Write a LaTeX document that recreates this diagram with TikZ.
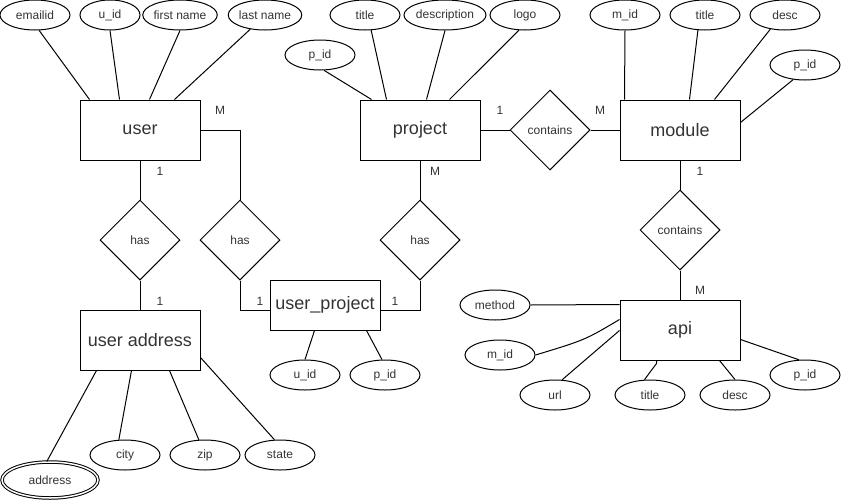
\documentclass[tikz,border=0pt]{standalone}
\usepackage{fontspec}
\setmainfont{Liberation Sans}
\usetikzlibrary{positioning}
\usetikzlibrary{calc}
\usetikzlibrary{shapes.geometric}
\tikzset{
    % Big boxes for the entities
    entity/.style={
        draw, rectangle, inner sep=0, text=black!80,
        minimum width=120pt, minimum height=60pt,
        font=\fontsize{18}{20}\selectfont},
%
    % Diamonds for the relations between entities
    relation/.style={
        draw, diamond, aspect=1, inner sep=0, text=black!80,
        minimum width=80pt, minimum height=80pt,
        font=\fontsize{12}{14}\selectfont},
%
    % Small ellipses for the attributes
    attribute/.style={
        draw, ellipse, inner sep=0, text=black!80,
        minimum width=70pt, minimum height=30pt,
        font=\fontsize{12}{14}\selectfont},
%
    % The 1 and M marks beside the links
    card/.style={inner sep=0, text=black!80,
        font=\fontsize{12}{14}\selectfont}}

\begin{document}
\begin{tikzpicture}[x=1pt, y=-1pt, line width=1pt]
\useasboundingbox (0,0) rectangle (841,501);

% The user and its attributes
\path
    node[entity] (user) at (140,130) {user}
    node[attribute] (user email) at (35,15) {emailid}
    node[attribute, minimum width=60pt] (user id) at (110,15) {u\_id}
    node[attribute] (user first) at (180,15) {first name}
    node[attribute] (user last) at (265,15) {last name};

\draw (user email.-75) -- ($(user.north west)+(10,0)$);
\draw (user id.south) -- ($(user.north west)+(40,0)$);
\draw (user first.south) -- ($(user.north west)+(70,0)$);
\draw (user last.-136) -- ($(user.north west)+(95,0)$);

% The project and its attributes
\path
    node[entity] (project) at (420,130) {project}
    node[attribute] (project id) at (320,55) {p\_id}
    node[attribute] (project title) at (365,15) {title}
    node[attribute] (project desc) at (445,15) {description}
    node[attribute] (project logo) at (525,15) {logo};

\draw (project id.-75) -- ($(project.north west)+(12,0)$);
\draw (project title.-68) -- ($(project.north west)+(27,0)$);
\draw (project desc.south) -- ($(project.north west)+(67,0)$);
\draw (project logo.-112) -- ($(project.north west)+(90,0)$);

% The module and its attributes
\path
    node[entity] (module) at (680,130) {module}
    node[attribute] (module id) at (625,15) {m\_id}
    node[attribute] (module title) at (705,15) {title}
    node[attribute] (module desc) at (785,15) {desc}
    node[attribute] (module pid) at (805,65) {p\_id};

\draw (module id.south) -- ($(module.north west)+(5,0)$);
\draw (module title.-115) -- ($(module.north west)+(70,0)$);
\draw (module desc.-136) -- ($(module.north west)+(95,0)$);
\draw (module pid.-129) -- ($(module.north east)+(0,23)$);

% Relations between the entities
\path
    node[relation] (user has) at (140,240) {has}
    node[relation] (user project has) at (240,240) {has}
    node[relation] (project has) at (420,240) {has}
    node[relation] (project contains) at (550,130) {contains}
    node[relation] (module contains) at (680,230) {contains};

% The user address, with its attributes
\path
    node[entity] (user address) at (140,340) {user address}
    node[attribute, double, double distance=1.5pt,
        minimum width=96pt, minimum height=36pt] (address) at (50,480) {address}
    node[attribute] (city) at (125,455) {city}
    node[attribute] (zip) at (205,455) {zip}
    node[attribute] (state) at (280,455) {state};

\draw (address.100) -- ($(user address.south west)+(17,0)$);
\draw (city.112) -- ($(user address.south west)+(52,0)$);
\draw (zip.112) -- ($(user address.south west)+(90,0)$);
\draw (state.110) -- ($(user address.south east)+(0,-13)$);

% The link table between users and projects
\path
    node[entity, minimum width=110pt, minimum height=50pt]
        (user_project) at (325,305) {user\_project}
    node[attribute] (link uid) at (305,375) {u\_id}
    node[attribute] (link pid) at (385,375) {p\_id};

\draw (link uid.north) -- ($(user_project.south west)+(45,0)$);
\draw (link pid.101) -- ($(user_project.south west)+(97,0)$);

% The api and its attributes
\path
    node[entity] (api) at (680,330) {api}
    node[attribute] (api method) at (495,305) {method}
    node[attribute] (api mid) at (500,355) {m\_id}
    node[attribute] (api url) at (555,395) {url}
    node[attribute] (api title) at (650,395) {title}
    node[attribute] (api desc) at (735,395) {desc}
    node[attribute] (api pid) at (805,375) {p\_id};

\draw (api method.east) -- ($(api.north west)+(0,5)$);
\draw (api mid.east) .. controls (585,340) .. ($(api.north west)+(0,20)$);
\draw (api url.65) -- ($(api.north west)+(0,31)$);
\draw (api title.110) -- ($(api.south west)+(37,3)$) -- ($(api.south west)+(37,0)$);
\draw (api desc.north) -- ($(api.south west)+(100,0)$);
\draw (api pid.112) -- ($(api.north east)+(0,40)$);

% Links from the entities to the relations
\draw (user) -- (user has);
\draw (user has) -- (user address);
\draw (user.east) -| (user project has.north);
\draw (user project has.south) |- ($(user_project.west)+(0,5)$);
\draw ($(user_project.east)+(0,5)$) -| (project has.south);
\draw (project) -- (project has);
\draw (project) -- (project contains);
\draw (project contains) -- (module);
\draw (module) -- (module contains);
\draw (module contains) -- (api);

% Cardinalities
\path
    node[card] (user has one) at (160,171) {1}
    node[card] (user address one) at (160,301) {1}
    node[card] (user many) at (220,110) {M}
    node[card] (link left one) at (260,301) {1}
    node[card] (link right one) at (395,301) {1}
    node[card] (project many) at (435,171) {M}
    node[card] (project one) at (500,110) {1}
    node[card] (module many) at (600,110) {M}
    node[card] (module one) at (700,171) {1}
    node[card] (api many) at (700,290) {M};

\end{tikzpicture}
\end{document}
